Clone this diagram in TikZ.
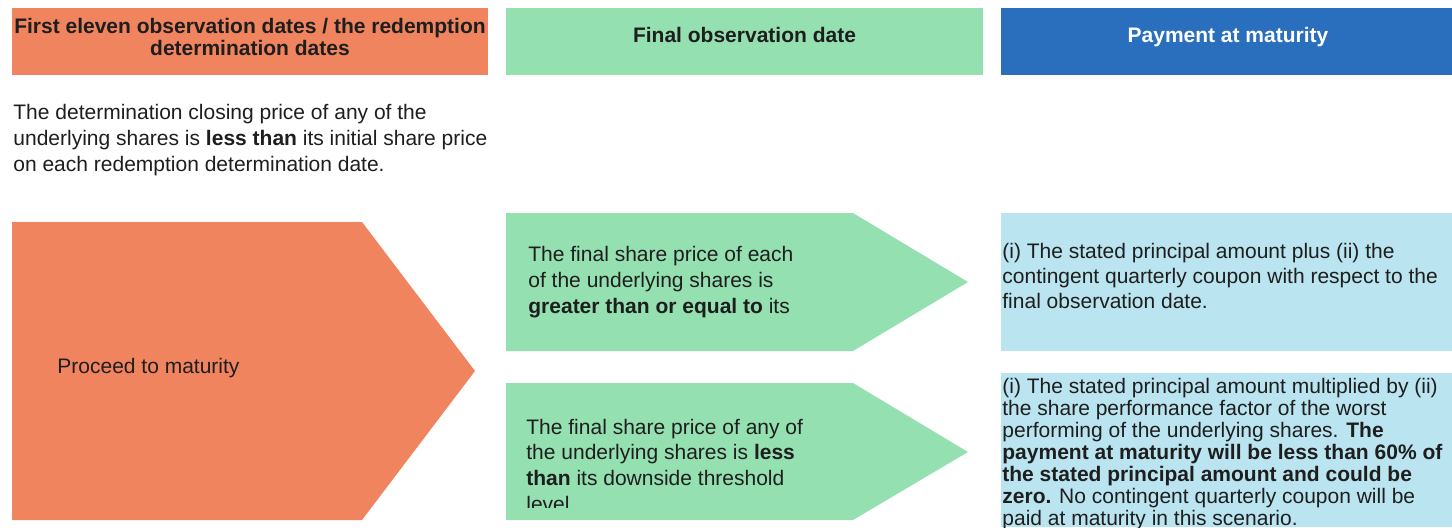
\documentclass[tikz,border=0pt]{standalone}
\usepackage{fontspec}
\setmainfont{Liberation Sans}
\usetikzlibrary{positioning}
\definecolor{Coral}{HTML}{F0845F}
\definecolor{Mint}{HTML}{94E0B0}
\definecolor{Royal}{HTML}{2A6EBE}
\definecolor{Sky}{HTML}{B9E4F0}
\definecolor{Ink}{HTML}{1E1E1E}
\tikzset{
  head/.style={font=\fontsize{10.5}{11}\selectfont\bfseries,align=center,inner sep=0pt,anchor=base,text=Ink},
  txt/.style={font=\fontsize{10.5}{12.8}\selectfont,align=left,inner sep=0pt,anchor=base west,text=Ink},
  tight/.style={txt,font=\fontsize{10.5}{11}\selectfont},
}
\begin{document}
\begin{tikzpicture}[x=0.5pt,y=-0.5pt,line join=round]
\useasboundingbox (0,0) rectangle (1452,527);
% column heads (base = last line)
\fill[Coral] (12,8) rectangle (488,75);
\fill[Mint] (506,8) rectangle (983,75);
\fill[Royal] (1001,8) rectangle (1452,75);
\node[head] (headFirst) at (250,55) {First eleven observation dates / the redemption\\determination dates};
\node[head] (headFinal) at (744.5,42) {Final observation date};
\node[head,text=white] (headPay) at (1228,42) {Payment at maturity};
% condition on redemption dates
\node[txt] (cond) at (13,171) {The determination closing price of any of the\\underlying shares is \textbf{less than} its initial share price\\on each redemption determination date.};
% arrows
\fill[Coral] (12,222) -- (362,222) -- (475,371) -- (362,520) -- (12,520) -- cycle;
\fill[Mint] (506,213) -- (853,213) -- (968,282) -- (853,351) -- (506,351) -- cycle;
\fill[Mint] (506,383) -- (853,383) -- (968,452) -- (853,520) -- (506,520) -- cycle;
\fill[Sky] (1001,213) rectangle (1452,351);
\fill[Sky] (1001,373) rectangle (1452,527);
\node[txt] (proceed) at (57,373) {Proceed to maturity};
\node[txt] (above) at (528,313) {The final share price of each\\of the underlying shares is\\\textbf{greater than or equal to} its};
\begin{scope}
\clip (506,383) rectangle (968,507);
\node[txt] (below) at (526,511) {The final share price of any of\\the underlying shares is \textbf{less}\\\textbf{than} its downside threshold\\level};
\end{scope}
\node[txt,font=\fontsize{10.5}{12.3}\selectfont] (payUp) at (1002,308) {(i) The stated principal amount plus (ii) the\\contingent quarterly coupon with respect to the\\final observation date.};
\node[tight] (payDown) at (1002,525) {(i) The stated principal amount multiplied by (ii)\\the share performance factor of the worst\\performing of the underlying shares. \textbf{The}\\\textbf{payment at maturity will be less than 60\% of}\\\textbf{the stated principal amount and could be}\\\textbf{zero.} No contingent quarterly coupon will be\\paid at maturity in this scenario.};
\end{tikzpicture}
\end{document}
